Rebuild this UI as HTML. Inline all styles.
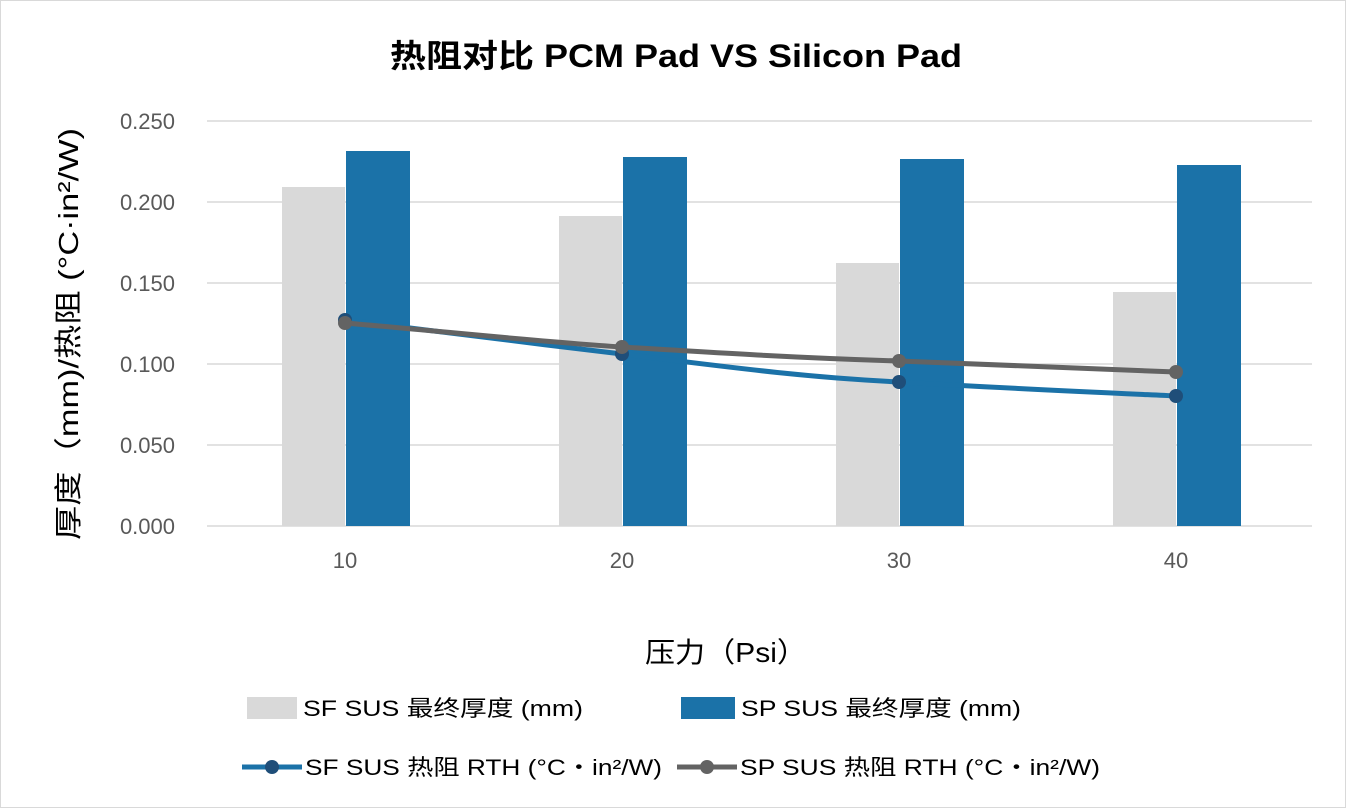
<!DOCTYPE html>
<html><head><meta charset="utf-8"><style>
html,body{margin:0;padding:0;background:#fff}
svg{display:block}
text{font-family:"Liberation Sans","Noto Sans CJK SC",sans-serif}
</style></head><body>
<svg width="1346" height="808" viewBox="0 0 1346 808" xmlns="http://www.w3.org/2000/svg">
<rect x="0.5" y="0.5" width="1345" height="807" fill="#fff" stroke="#d9d9d9"/>
<text x="390" y="67" font-size="32" font-weight="bold" fill="#000" textLength="572" lengthAdjust="spacingAndGlyphs">热阻对比 PCM Pad VS Silicon Pad</text>
<g stroke="#d9d9d9" stroke-width="1.5">
<line x1="207" y1="121" x2="1312" y2="121"/>
<line x1="207" y1="202" x2="1312" y2="202"/>
<line x1="207" y1="283" x2="1312" y2="283"/>
<line x1="207" y1="364" x2="1312" y2="364"/>
<line x1="207" y1="445" x2="1312" y2="445"/>
<line x1="207" y1="526" x2="1312" y2="526"/>
</g>
<g font-size="22" fill="#595959" text-anchor="end">
<text x="175" y="129">0.250</text>
<text x="175" y="210">0.200</text>
<text x="175" y="291">0.150</text>
<text x="175" y="372">0.100</text>
<text x="175" y="453">0.050</text>
<text x="175" y="534">0.000</text>
</g>
<g font-size="22" fill="#595959" text-anchor="middle">
<text x="345" y="568">10</text>
<text x="622" y="568">20</text>
<text x="899" y="568">30</text>
<text x="1176" y="568">40</text>
</g>
<g fill="#d9d9d9">
<rect x="282" y="187" width="63" height="339"/>
<rect x="559" y="216" width="63" height="310"/>
<rect x="836" y="263" width="63" height="263"/>
<rect x="1113" y="292" width="63" height="234"/>
</g>
<g fill="#1b72a8">
<rect x="346" y="151" width="64" height="375"/>
<rect x="623" y="157" width="64" height="369"/>
<rect x="900" y="159" width="64" height="367"/>
<rect x="1177" y="165" width="64" height="361"/>
</g>
<path d="M345,320 C440,332 530,343 622,354 C720,366 800,377 899,382 C1000,388 1090,392 1176,396" fill="none" stroke="#1b72a8" stroke-width="5"/>
<g fill="#1f4e79"><circle cx="345" cy="320" r="7"/><circle cx="622" cy="354" r="7"/><circle cx="899" cy="382" r="7"/><circle cx="1176" cy="396" r="7"/></g>
<path d="M345,323 C440,331 530,341 622,347 C720,353 800,358 899,361 C1000,365 1090,368 1176,372" fill="none" stroke="#636363" stroke-width="5"/>
<g fill="#636363"><circle cx="345" cy="323" r="7"/><circle cx="622" cy="347" r="7"/><circle cx="899" cy="361" r="7"/><circle cx="1176" cy="372" r="7"/></g>
<text transform="translate(78,540) rotate(-90)" font-size="28" fill="#000" textLength="412" lengthAdjust="spacingAndGlyphs">厚度（mm)/热阻 (°C·in²/W)</text>
<text x="645" y="662" font-size="28" fill="#000" textLength="162" lengthAdjust="spacingAndGlyphs">压力（Psi）</text>
<g font-size="22" fill="#000">
<rect x="247" y="697" width="50" height="22" fill="#d9d9d9"/>
<text x="303" y="716" textLength="280" lengthAdjust="spacingAndGlyphs">SF SUS 最终厚度 (mm)</text>
<rect x="681" y="697" width="54" height="22" fill="#1b72a8"/>
<text x="741" y="716" textLength="280" lengthAdjust="spacingAndGlyphs">SP SUS 最终厚度 (mm)</text>
<line x1="242" y1="767" x2="302" y2="767" stroke="#1b72a8" stroke-width="5"/>
<circle cx="272" cy="767" r="7" fill="#1f4e79"/>
<text x="305" y="775" textLength="357" lengthAdjust="spacingAndGlyphs">SF SUS 热阻 RTH (°C・in²/W)</text>
<line x1="677" y1="767" x2="737" y2="767" stroke="#636363" stroke-width="5"/>
<circle cx="707" cy="767" r="7" fill="#636363"/>
<text x="740" y="775" textLength="360" lengthAdjust="spacingAndGlyphs">SP SUS 热阻 RTH (°C・in²/W)</text>
</g>
</svg>
</body></html>
